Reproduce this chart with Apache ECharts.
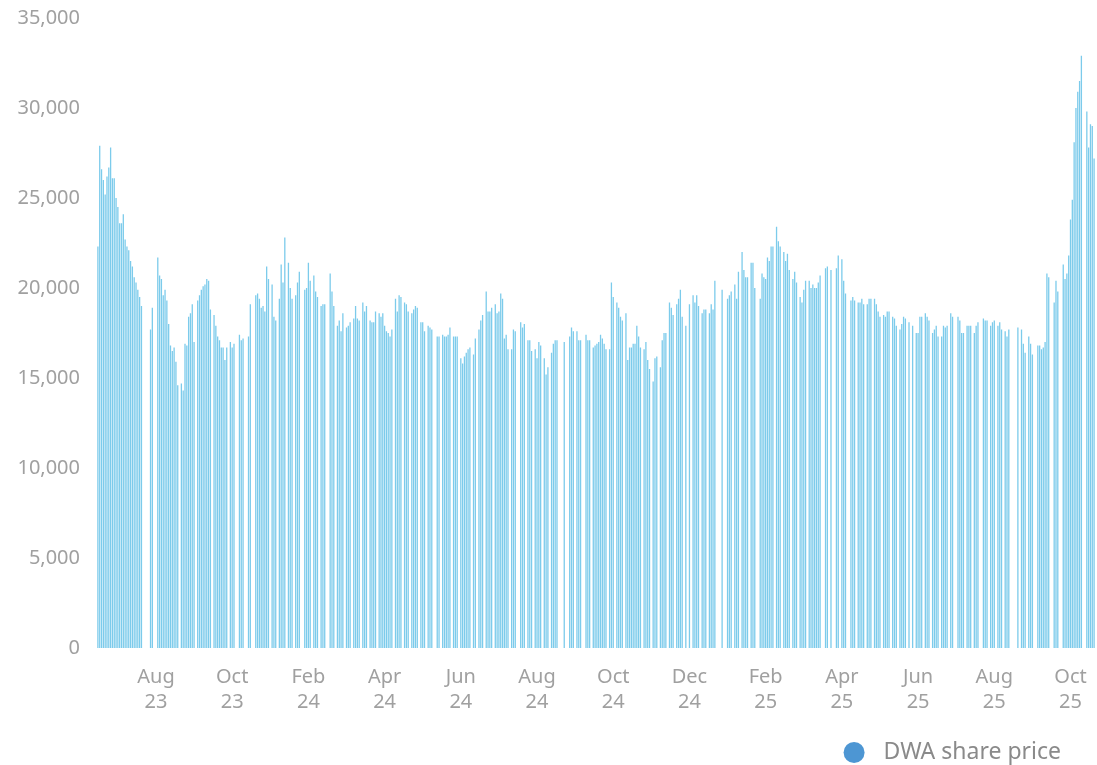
<!DOCTYPE html>
<html lang="en">
<head>
    <meta charset="UTF-8">
    <title>DWA share price</title>
    <script src="https://cdn.jsdelivr.net/npm/echarts@6/dist/echarts.min.js"></script>
    <style>
        html, body { margin: 0; padding: 0; background: #fff; }
        #main { width: 1097px; height: 765px; }
    </style>
</head>
<body>
<div id="main"></div>
<script type="text/javascript">
    // daily closing price (null = no bar)
    var prices = [
        22300, 27900, 26600, 26000, 25200, 26200, 26700, 27800, 26100, 26100,
        25000, 24500, 23600, 23600, 24100, 22700, 22300, 22100, 21500, 21200,
        20600, 20300, 19900, 19500, 19000, null, null, null, null, 17700,
        18900, null, null, 21700, 20700, 20500, 19600, 19900, 19300, 18000,
        16800, 16500, 16700, 15900, 14600, null, 14700, 14300, 16900, 16800,
        18400, 18600, 19100, 17000, null, 19300, 19600, 19900, 20100, 20200,
        20500, 20400, 18800, null, 18500, 17900, 17300, 17100, 16700, 16700,
        16000, 16700, null, 17000, 16700, 16900, null, null, 17400, 17100,
        17200, null, null, 17300, 19100, null, null, 19600, 19700, 19400,
        18900, 19000, 18700, 21200, 20500, null, 20200, 18400, 18200, null,
        19400, 21300, 20300, 22800, null, 21400, 20000, 19400, null, 19600,
        20300, 20900, null, null, 19900, 20000, 21400, 20400, null, 20700,
        19800, 19500, null, 19000, 19100, 19100, null, null, 20800, 19800,
        19000, null, 17900, 18200, 17600, 18600, null, 17800, 17900, 18100,
        null, 18300, 19000, 18300, 18200, null, 19200, 18700, 19000, null,
        18200, 18100, 18100, 18700, null, 18600, 18400, 18600, 17900, 17600,
        17500, 17300, 17700, null, 19400, 18700, 19600, 19500, null, 19200,
        19100, 18700, null, 18600, 18800, 19000, 18900, null, 18100, 18100,
        17600, null, 17900, 17800, 17700, null, null, 17300, 17300, null,
        17400, 17300, 17300, 17400, 17800, null, 17300, 17300, 17300, null,
        16100, 15800, 16200, 16400, 16600, 16700, null, 16300, 17200, null,
        17700, 18200, 18500, null, 19800, 18700, 18700, 18900, null, 19100,
        18600, 18700, 19700, 19400, 17200, 17400, 16600, null, 16600, 17700,
        17600, null, null, 18100, 17800, 18000, null, 17100, 17100, 16500,
        null, 16600, 16100, 17000, 16800, null, 16100, 15200, 15600, null,
        16400, 16900, 17100, 17100, null, null, null, 17000, null, null,
        17300, 17800, 17600, null, 17600, 17100, 17100, null, null, 17400,
        17100, 17100, null, 16700, 16800, 16900, 17000, 17400, 17200, 16900,
        16600, null, 16600, 20300, 19500, null, 19200, 18900, 18400, 18200,
        null, 18600, 16000, 16700, 16700, 16900, 16900, 17900, 17300, 16700,
        null, 16600, 17000, 16000, 15500, null, 14800, 16100, 16200, null,
        15600, 17100, 17500, 17500, null, 19200, 18900, 18500, null, 19100,
        19400, 19900, 18400, null, 17900, null, 19100, null, 19600, 19200,
        19600, 19000, null, 18600, 18800, 18800, null, 18600, 19100, 18800,
        20400, null, null, null, 19900, null, null, 19400, 19600, 19800,
        null, 20200, 19400, 20900, null, 22000, 21000, 20600, 20600, null,
        21400, 21400, 20000, null, null, 19400, 20800, 20600, 20500, 21700,
        21500, 22300, 22300, null, 23400, 22600, 22300, null, 22000, 21500,
        21900, 21000, null, 20500, 20900, 20300, null, 19500, 19200, 19900,
        20400, null, 20400, 20000, 20200, 20000, 20000, 20300, 20700, null,
        null, 21100, 21200, null, 21000, null, null, 21100, 21800, null,
        21600, 20400, 19700, null, null, 19300, 19500, 19300, null, 19200,
        19200, 19400, 19100, null, 19100, 19400, 19400, null, 19400, 19100,
        18700, 18400, null, 18500, 18400, 18700, 18700, null, 18400, 18300,
        17900, null, 17700, 18000, 18400, 18300, null, 18100, null, 17900,
        null, 17500, 17500, 18400, 18400, null, 18600, 18400, 18200, null,
        17500, 17700, 17900, 17300, null, 17300, 17900, 17800, 17900, null,
        18600, 18400, null, null, 18400, 18200, 17500, 17500, null, 17900,
        17900, 17900, null, 17500, 17900, 18100, null, null, 18300, 18200,
        18200, null, 17900, 18100, 18200, null, 17900, 18100, 17700, null,
        17600, 17300, 17700, null, null, null, null, 17800, null, 17700,
        16900, 16400, null, 17300, 16900, 16300, null, null, 16800, 16800,
        16600, 16700, 17000, 20800, 20600, null, null, 19200, 20400, 19800,
        null, null, 21300, 20500, 20800, 21800, 23800, 24900, 28100, 30000,
        30900, 31500, 32900, null, null, 29800, 27800, 29100, 29000, 27200
    ];

    // x tick labels: one every 42 trading days, starting at day 32
    var tickLabels = ['Aug\n23', 'Oct\n23', 'Feb\n24', 'Apr\n24', 'Jun\n24', 'Aug\n24', 'Oct\n24',
        'Dec\n24', 'Feb\n25', 'Apr\n25', 'Jun\n25', 'Aug\n25', 'Oct\n25'];
    var firstTick = 32;
    var tickStep = 42;

    var days = prices.map(function (v, i) { return String(i); });

    function isTick(i) {
        return i >= firstTick && (i - firstTick) % tickStep === 0;
    }

    var myChart = echarts.init(document.getElementById('main'));
    myChart.setOption({
        animation: false,
        textStyle: { fontFamily: 'Noto Sans' },
        grid: { left: 97, right: 2, top: 18, bottom: 117 },
        legend: {
            right: 31,
            top: 736,
            icon: 'circle',
            itemWidth: 21,
            itemHeight: 21,
            textStyle: { color: '#8a8a8a', fontSize: 23, fontFamily: 'Noto Sans', padding: [0, 0, 0, 14] },
            data: [{ name: 'DWA share price', itemStyle: { color: '#4d96d3' } }]
        },
        xAxis: {
            type: 'category',
            data: days,
            axisLine: { show: false },
            axisTick: { show: false },
            splitLine: { show: false },
            axisLabel: {
                interval: function (i) { return isTick(i); },
                formatter: function (v, i) {
                    return isTick(i) ? tickLabels[(i - firstTick) / tickStep] : '';
                },
                color: '#a0a0a0',
                fontSize: 20,
                lineHeight: 25,
                margin: 17,
                fontFamily: 'Noto Sans'
            }
        },
        yAxis: {
            type: 'value',
            min: 0,
            max: 35000,
            interval: 5000,
            axisLine: { show: false },
            axisTick: { show: false },
            splitLine: { show: false },
            axisLabel: {
                color: '#a0a0a0',
                fontSize: 20,
                margin: 17,
                fontFamily: 'Noto Sans',
                formatter: function (v) { return v.toLocaleString('en-US'); }
            }
        },
        series: [{
            name: 'DWA share price',
            type: 'bar',
            data: prices,
            barWidth: 1.3,
            itemStyle: { color: '#7ccbeb' }
        }]
    });
</script>
</body>
</html>
